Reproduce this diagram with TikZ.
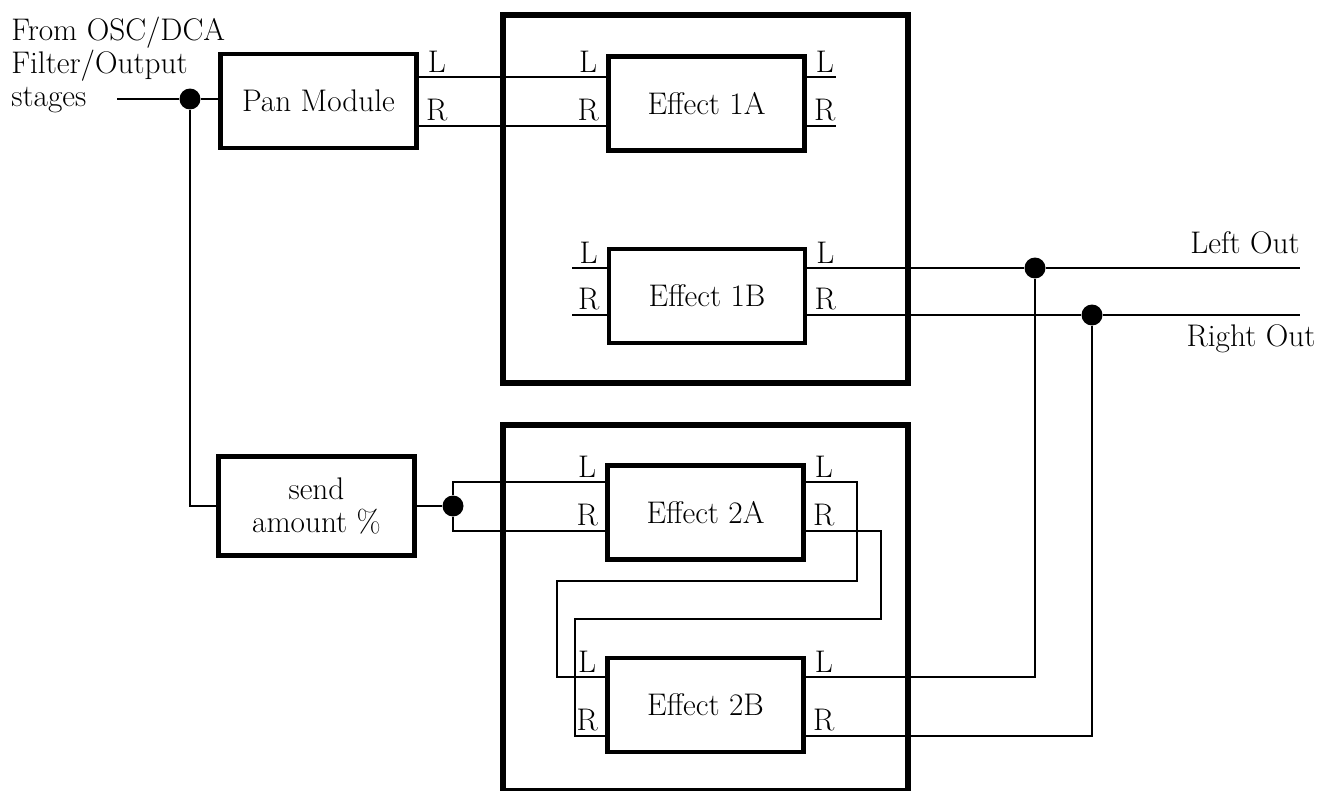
\documentclass[tikz,border=0pt]{standalone}
\usepackage{tikz}
\tikzset{
  txt/.style={font=\fontsize{17.8}{18.8}\selectfont},
  blk/.style={draw,line width=2.6pt,minimum width=3.92cm,minimum height=1.88cm,inner sep=0pt,align=center,txt},
  frm/.style={line width=3.4pt},
  wr/.style={line width=1.1pt},
  jn/.style={circle,fill,inner sep=0pt,minimum size=0.42cm},
  pl/.style={txt,inner sep=2.5pt,anchor=south}
}

\begin{document}
\begin{tikzpicture}[x=0.02cm,y=-0.02cm]
\useasboundingbox (0,0) rectangle (1330,791);
\draw[frm] (503,15) rectangle (908,383);
\draw[frm] (503,425) rectangle (908,791);
\node[txt,align=left,anchor=north west,inner sep=0pt] (src) at (11,17) {From OSC/DCA\\Filter/Output\\stages};
\node[blk] (pan) at (318.5,101) {Pan Module};
\node[blk,minimum height=1.98cm] (send) at (316.5,506) {send\\amount \%};
\node[blk] (e1a) at (706.5,103.5) {Effect 1A};
\node[blk] (e1b) at (707,296) {Effect 1B};
\node[blk] (e2a) at (705.5,512.5) {Effect 2A};
\node[blk] (e2b) at (705.5,705) {Effect 2B};
\foreach \b/\l/\r in {pan/77/126,e1a/77/126,e1b/268/315,e2a/482/531,e2b/677/736}{
  \coordinate (\b-Li) at (\b.west |- 0,\l);
  \coordinate (\b-Ri) at (\b.west |- 0,\r);
  \coordinate (\b-Lo) at (\b.east |- 0,\l);
  \coordinate (\b-Ro) at (\b.east |- 0,\r);
  \node[pl,xshift=0.36cm] (\b-lo) at (\b-Lo) {L};
  \node[pl,xshift=0.36cm] (\b-ro) at (\b-Ro) {R};
}
\foreach \b in {e1a,e1b,e2a,e2b}{
  \node[pl,xshift=-0.36cm] (\b-li) at (\b-Li) {L};
  \node[pl,xshift=-0.36cm] (\b-ri) at (\b-Ri) {R};
}
\node[jn] (j1) at (190,99) {};
\node[jn] (js) at (453,506) {};
\node[jn] (jL) at (1035,268) {};
\node[jn] (jR) at (1092,315) {};
\coordinate (in) at (117,99);
\coordinate (lout) at (1300,268);
\coordinate (rout) at (1300,315);
\node[txt] (ltxt) at (1245,243) {Left Out};
\node[txt] (rtxt) at (1251,339) {Right Out};
\draw[wr] (in) -- (j1) -- (j1 -| pan.west);
\draw[wr] (j1) |- (send.west);
\draw[wr] (pan-Lo) -- (e1a-Li);
\draw[wr] (pan-Ro) -- (e1a-Ri);
\draw[wr] (e1a-Lo) -- ++(29,0);
\draw[wr] (e1a-Ro) -- ++(29,0);
\draw[wr] (e1b-Li) -- ++(-35,0);
\draw[wr] (e1b-Ri) -- ++(-35,0);
\draw[wr] (e1b-Lo) -- (jL) -- (lout);
\draw[wr] (e1b-Ro) -- (jR) -- (rout);
\draw[wr] (send.east) -- (js);
\draw[wr] (e2a-Li) -| (js) |- (e2a-Ri);
\draw[wr] (e2a-Lo) -| (857,581) -| (557,677) -- (e2b-Li);
\draw[wr] (e2a-Ro) -| (881,619) -| (575,736) -- (e2b-Ri);
\draw[wr] (e2b-Lo) -| (jL);
\draw[wr] (e2b-Ro) -| (jR);
\end{tikzpicture}
\end{document}
